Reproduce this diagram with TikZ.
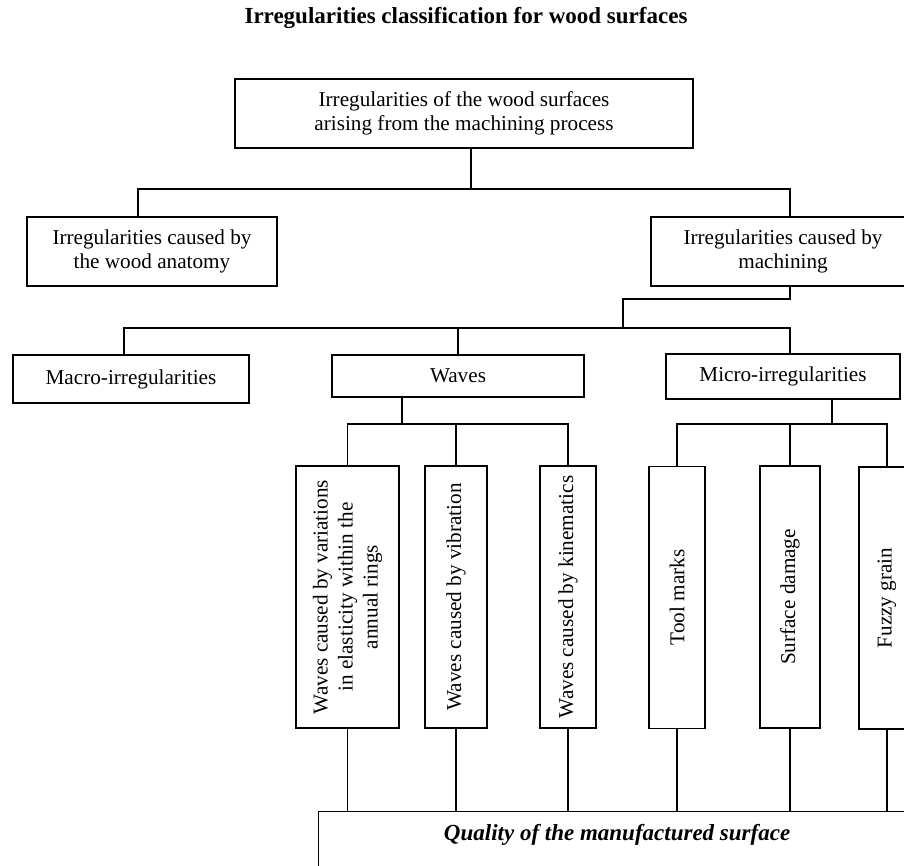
\documentclass[tikz,border=0pt]{standalone}
\usepackage{fontspec}
\setmainfont{Liberation Serif}

\tikzset{
  box/.style={draw,line width=1.2pt,align=center,inner sep=0pt,
    font=\fontsize{21.2}{23.4}\selectfont},
  vbox/.style={box,rotate=90,minimum width=262pt,font=\fontsize{21.2}{25}\selectfont},
  link/.style={line width=1.2pt}
}

\begin{document}
\begin{tikzpicture}[x=1pt,y=-1pt]
\useasboundingbox (0,0) rectangle (904,865);
\clip (0,0) rectangle (904,865);

\node[font=\fontsize{23}{26}\selectfont\bfseries] (title) at (466,18) {Irregularities classification for wood surfaces};

\node[box,minimum width=458pt,minimum height=69pt] (top) at (464,113.5) {Irregularities of the wood surfaces\\arising from the machining process};
\node[box,minimum width=250pt,minimum height=69pt] (anat) at (152,251.5) {Irregularities caused by\\the wood anatomy};
\node[box,minimum width=264pt,minimum height=69pt] (mach) at (783,251.5) {Irregularities caused by\\machining};

\node[box,minimum width=236pt,minimum height=48pt] (macro) at (131,379) {Macro-irregularities};
\node[box,minimum width=252pt,minimum height=42pt] (waves) at (458,376) {Waves};
\node[box,minimum width=234pt,minimum height=45pt] (micro) at (783,376.5) {Micro-irregularities};

\node[vbox,minimum height=103pt] (elast) at (347.5,597) {Waves caused by variations\\in elasticity within the\\annual rings};
\node[vbox,minimum height=62pt] (vibr) at (456,597) {Waves caused by vibration};
\node[vbox,minimum height=56pt] (kinem) at (568,597) {Waves caused by kinematics};
\node[vbox,minimum height=56pt] (tool) at (677,597.5) {Tool marks};
\node[vbox,minimum height=60pt] (damage) at (790,597) {Surface damage};
\node[vbox,minimum height=56pt] (fuzzy) at (887,598) {Fuzzy grain};

\node[draw,line width=1.2pt,anchor=north west,minimum width=597pt,inner xsep=0pt,inner ysep=13pt,
  text height=16pt,text depth=40pt,font=\fontsize{23}{26}\selectfont\bfseries\itshape] (quality) at (318,811) {Quality of the manufactured surface};

\coordinate (j1) at (471,189);
\coordinate (j1a) at (138,189);
\coordinate (j1b) at (790,189);
\draw[link] (top.south -| j1) -- (j1);
\draw[link] (anat.north -| j1a) -- (j1a) -- (j1b) -- (mach.north -| j1b);

\coordinate (j2) at (790,299);
\coordinate (j2a) at (623,299);
\coordinate (j3) at (623,328);
\coordinate (j3a) at (124,328);
\coordinate (j3b) at (790,328);
\draw[link] (mach.south -| j2) -- (j2) -- (j2a) -- (j3);
\draw[link] (macro.north -| j3a) -- (j3a) -- (j3b) -- (micro.north -| j3b);
\draw[link] (waves.north) -- (waves.north |- j3);

\coordinate (j4) at (402,424);
\draw[link] (waves.south -| j4) -- (j4);
\draw[link] (elast.east) -- (elast.east |- j4) -- (kinem.east |- j4) -- (kinem.east);
\draw[link] (vibr.east) -- (vibr.east |- j4);

\coordinate (j5) at (832,424);
\draw[link] (micro.south -| j5) -- (j5);
\draw[link] (tool.east) -- (tool.east |- j5) -- (fuzzy.east |- j5) -- (fuzzy.east);
\draw[link] (damage.east) -- (damage.east |- j5);

\draw[link] (elast.west) -- (elast.west |- quality.north);
\draw[link] (vibr.west) -- (vibr.west |- quality.north);
\draw[link] (kinem.west) -- (kinem.west |- quality.north);
\draw[link] (tool.west) -- (tool.west |- quality.north);
\draw[link] (damage.west) -- (damage.west |- quality.north);
\draw[link] (fuzzy.west) -- (fuzzy.west |- quality.north);

\end{tikzpicture}
\end{document}
